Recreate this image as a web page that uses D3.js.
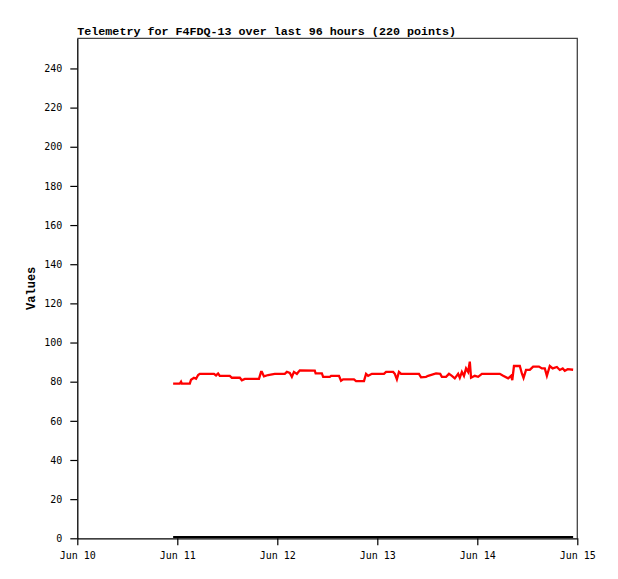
<!DOCTYPE html>
<html>
<head>
<meta charset="utf-8">
<script src="https://cdn.jsdelivr.net/npm/d3@7"></script>
<style>
  body { margin:0; background:#fff; }
  svg text { fill:#000; }
</style>
</head>
<body>
<div id="vis"></div>
<script>
/* Telemetry series (hours after Jun 10 00:00 UTC, value) */
const hours = [
  23.0, 24.6, 24.9, 25.1, 27.0, 27.3, 28.0, 28.5, 29.0, 29.4,
  32.8, 33.3, 33.8, 34.2, 36.6, 37.1, 39.0, 39.5, 40.2, 43.6,
  44.1, 44.3, 44.8, 45.8, 47.4, 49.8, 50.3, 51.0, 51.5, 52.0,
  52.7, 53.4, 57.0, 57.2, 58.7, 59.0, 60.6, 60.9, 62.8, 63.3,
  63.8, 66.4, 66.9, 68.8, 69.3, 69.8, 70.7, 73.6, 74.1, 75.8,
  76.2, 76.7, 77.2, 77.7, 82.0, 82.5, 83.7, 84.2, 86.1, 87.1,
  87.5, 88.5, 89.2, 89.9, 90.6, 91.4, 91.8, 92.3, 92.8, 93.3,
  93.8, 94.2, 94.5, 95.4, 96.2, 97.1, 101.4, 102.2, 103.4, 104.1,
  104.4, 104.8, 106.2, 106.7, 107.1, 107.7, 108.6, 109.4, 110.8, 111.5,
  112.2, 112.7, 113.4, 114.1, 115.1, 115.8, 116.5, 117.0, 117.7, 119.0
];
const values = [
  79, 79, 80, 79, 79, 81, 82, 81.5, 83.4, 84,
  84, 83.2, 84.2, 83, 83, 82, 82, 80.7, 81.4, 81.4,
  85, 85, 82.7, 83.4, 84, 84, 85, 84.5, 82.5, 85,
  84, 85.8, 85.6, 84.2, 84.2, 82.5, 82.5, 83, 83, 80.5,
  81.2, 81.2, 80.3, 80.3, 84, 83, 84, 84, 85, 85,
  84, 81.2, 85, 84, 84, 82.2, 82.5, 83, 84.2, 84,
  82.5, 82.5, 84, 83, 81.7, 84, 82, 85, 83, 86.8,
  85, 90.2, 82, 83, 82.5, 84, 84, 83, 81.7, 83,
  80.8, 88, 88, 84.2, 81.9, 86, 86, 87.7, 87.7, 86.8,
  86.8, 83, 88, 86.8, 87.5, 86, 86.8, 85.6, 86.4, 86.1
];
/* second channel, flat at zero over the same span */
const zeroHours  = [23.0, 119.0];
const zeroValues = [0, 0];

const yTicks = [0, 20, 40, 60, 80, 100, 120, 140, 160, 180, 200, 220, 240];
const yMax = 255.4;
const title = "Telemetry for F4FDQ-13 over last 96 hours (220 points)";
const yLabel = "Values";

const start = Date.UTC(2024, 5, 10);
const toDate = h => new Date(start + h * 3600e3);

const W = 618, H = 579;
const m = {left:77.3, right:W-577.3, top:38.3, bottom:H-538.3};
const iw = W - m.left - m.right, ih = H - m.top - m.bottom;

const svg = d3.select("#vis").append("svg")
    .attr("width", W).attr("height", H);

const x = d3.scaleUtc()
    .domain([toDate(0), toDate(120)])
    .range([m.left, m.left + iw]);
const y = d3.scaleLinear()
    .domain([0, yMax])
    .range([m.top + ih, m.top]);

/* frame: top and right in grey */
svg.append("path")
    .attr("fill","none").attr("stroke","#444").attr("stroke-width",1.3)
    .attr("d", `M${m.left},${m.top}H${m.left+iw}V${m.top+ih}`);

/* series */
const line = d3.line().x(d => x(toDate(d[0]))).y(d => y(d[1]));

svg.append("path")
    .datum(d3.zip(zeroHours, zeroValues))
    .attr("fill","none").attr("stroke","#000").attr("stroke-width",2)
    .attr("transform","translate(0,-1.2)")
    .attr("d", line);

svg.append("path")
    .datum(d3.zip(hours, values))
    .attr("fill","none").attr("stroke","#ff0000").attr("stroke-width",2.3)
    .attr("stroke-linejoin","miter")
    .attr("d", line);

/* axes */
const yAxis = svg.append("g")
    .attr("transform", `translate(${m.left},0)`)
    .call(d3.axisLeft(y).tickValues(yTicks).tickSize(7).tickPadding(8).tickSizeOuter(0));
const xAxis = svg.append("g")
    .attr("transform", `translate(0,${m.top+ih})`)
    .call(d3.axisBottom(x).ticks(d3.utcDay.every(1)).tickFormat(d3.utcFormat("%b %d"))
          .tickSize(7).tickPadding(7).tickSizeOuter(0));

[yAxis, xAxis].forEach(a => {
  a.select(".domain").attr("stroke","#000").attr("stroke-width",1.3);
  a.selectAll(".tick line").attr("stroke","#000").attr("stroke-width",1.2);
  a.selectAll("text")
    .attr("font-family","'DejaVu Sans Mono', monospace")
    .attr("font-size",10).attr("fill","#000");
});

/* title and y label */
svg.append("text")
    .attr("x", m.left).attr("y", 35)
    .attr("font-family","'Liberation Mono', monospace")
    .attr("font-weight","bold").attr("font-size",11.7)
    .text(title);

svg.append("text")
    .attr("transform", `translate(35,${m.top + ih/2}) rotate(-90)`)
    .attr("text-anchor","middle")
    .attr("font-family","'Liberation Mono', monospace")
    .attr("font-weight","bold").attr("font-size",12)
    .text(yLabel);
</script>
</body>
</html>
